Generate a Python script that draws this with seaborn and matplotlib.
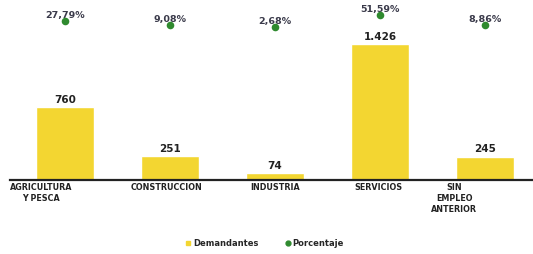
import pandas as pd
import numpy as np
import matplotlib.pyplot as plt
import matplotlib.transforms as mtransforms
from matplotlib.lines import Line2D
import seaborn as sns

# data
sectores = ["AGRICULTURA\nY PESCA", "CONSTRUCCION", "INDUSTRIA", "SERVICIOS", "SIN\nEMPLEO\nANTERIOR"]
demandantes = [760, 251, 74, 1426, 245]
porcentaje = [27.79, 9.08, 2.68, 51.59, 8.86]
etiq_dem = ["760", "251", "74", "1.426", "245"]
etiq_pct = ["27,79%", "9,08%", "2,68%", "51,59%", "8,86%"]

df = pd.DataFrame({"sector": sectores, "demandantes": demandantes, "porcentaje": porcentaje})
df["pos"] = np.arange(len(df))

sns.set_style("white")
plt.rcParams['font.family'] = ['DejaVu Sans']

amarillo = "#f3d631"
verde = "#2f8a2f"

fig = plt.figure(figsize=(5.33, 2.54), dpi=100)
ax = fig.add_axes([10/533, 74/254, 523/533, 175/254])

sns.barplot(data=df, x="sector", y="demandantes", color=amarillo, width=0.56,
            saturation=1, ax=ax)
ax.set_xlim(-0.524, 4.457)
ax.set_ylim(0, 1834)
ax.set_xlabel("")
ax.set_ylabel("")
ax.set_yticks([])
for s in ["top", "right", "left"]:
    ax.spines[s].set_visible(False)
ax.spines["bottom"].set_color("#222222")
ax.spines["bottom"].set_linewidth(1.6)
ax.tick_params(axis="x", length=0, pad=2, labelsize=5.8, labelcolor="#222222")

# shift first and last tick label like the original
offsets = [-24, -4, 0, -2, -31]
for lab, dx in zip(ax.get_xticklabels(), offsets):
    lab.set_fontweight("bold")
    lab.set_linespacing(1.3)
    lab.set_transform(lab.get_transform() + mtransforms.ScaledTranslation(dx/100, 0, fig.dpi_scale_trans))

for i, (v, t) in enumerate(zip(demandantes, etiq_dem)):
    ax.text(i, v + 25, t, ha="center", va="bottom", fontsize=7.5, fontweight="bold", color="#222222")

ax2 = ax.twinx()
sns.scatterplot(data=df, x="pos", y="porcentaje", color=verde, s=30, edgecolor=verde,
                linewidth=0, ax=ax2, zorder=5)
ax2.set_ylim(-621, 92)
ax2.set_yticks([])
ax2.set_ylabel("")
for s in ["top", "right", "left", "bottom"]:
    ax2.spines[s].set_visible(False)

for i, (p, t) in enumerate(zip(porcentaje, etiq_pct)):
    ax2.text(i, p + 4, t, ha="center", va="bottom", fontsize=6.8, fontweight="bold",
             color="#3a3a4a", zorder=4)

handles = [
    Line2D([0], [0], marker="s", linestyle="", color=amarillo, markersize=3.5, label="Demandantes"),
    Line2D([0], [0], marker="o", linestyle="", color=verde, markersize=3.5, label="Porcentaje"),
]
fig.legend(handles=handles, loc="center", bbox_to_anchor=(0.495, 11/254), ncol=2, frameon=False,
           handletextpad=0.1, handlelength=1.0, columnspacing=3.0,
           prop={"weight": "bold", "size": 6})

fig.savefig("out.png", dpi=100)
